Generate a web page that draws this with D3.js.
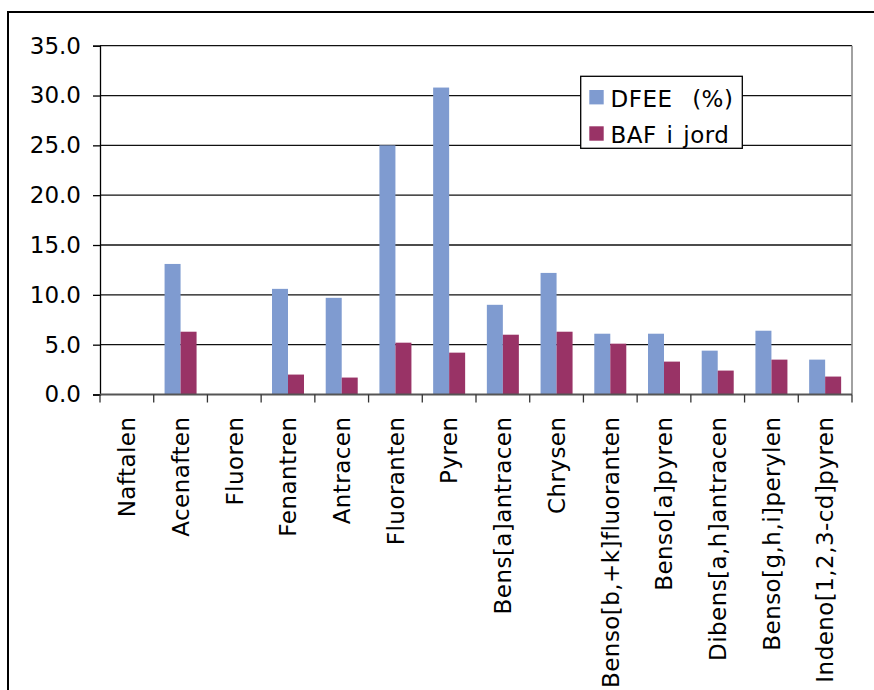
<!DOCTYPE html>
<html>
<head>
<meta charset="utf-8">
<script src="https://cdn.jsdelivr.net/npm/d3@7"></script>
<style>
  html, body { margin: 0; padding: 0; background: #fff; }
  svg { display: block; }
  text { font-family: "DejaVu Sans", Verdana, sans-serif; fill: #000; }
</style>
</head>
<body>
<svg id="chart" width="874" height="690"></svg>
<script>
// PAH compounds along the x axis
const categories = [
  "Naftalen", "Acenaften", "Fluoren", "Fenantren", "Antracen", "Fluoranten",
  "Pyren", "Bens[a]antracen", "Chrysen", "Benso[b,+k]fluoranten",
  "Benso[a]pyren", "Dibens[a,h]antracen", "Benso[g,h,i]perylen",
  "Indeno[1,2,3-cd]pyren"
];
// DFEE (%) per compound
const dfee = [0, 13.1, 0, 10.6, 9.7, 25.0, 30.8, 9.0, 12.2, 6.1, 6.1, 4.4, 6.4, 3.5];
// BAF in soil per compound
const baf = [0, 6.3, 0, 2.0, 1.7, 5.2, 4.2, 6.0, 6.3, 5.1, 3.3, 2.4, 3.5, 1.8];

const seriesNames = ["DFEE  (%)", "BAF i jord"];
const seriesColors = ["#7f9bd0", "#993366"];
const yTicks = [0, 5, 10, 15, 20, 25, 30, 35];

const svg = d3.select("#chart");
const fontSize = 23;

// outer frame of the chart object
svg.append("rect")
  .attr("x", 8).attr("y", 12)
  .attr("width", 900).attr("height", 900)
  .attr("fill", "none").attr("stroke", "#000").attr("stroke-width", 2);

const plot = { left: 100, right: 852, top: 45.7, bottom: 394.5 };

const x = d3.scaleBand()
  .domain(categories)
  .range([plot.left, plot.right])
  .paddingInner(0).paddingOuter(0);

const y = d3.scaleLinear().domain([0, 35]).range([plot.bottom, plot.top]);

const barW = 16;

// horizontal gridlines
svg.append("g")
  .selectAll("line")
  .data(yTicks.filter(d => d > 0))
  .join("line")
  .attr("x1", plot.left).attr("x2", plot.right)
  .attr("y1", d => y(d)).attr("y2", d => y(d))
  .attr("stroke", "#111").attr("stroke-width", 1.3);

// right border of the plot area
svg.append("line")
  .attr("x1", plot.right).attr("x2", plot.right)
  .attr("y1", plot.top).attr("y2", plot.bottom)
  .attr("stroke", "#8a8a8a").attr("stroke-width", 1.6);

// bars
const series = [dfee, baf];
series.forEach((vals, si) => {
  svg.append("g")
    .selectAll("rect")
    .data(vals.map((v, i) => ({ cat: categories[i], v })))
    .join("rect")
    .attr("x", d => x(d.cat) + x.bandwidth() / 2 - barW + si * barW)
    .attr("width", barW)
    .attr("y", d => y(d.v))
    .attr("height", d => y(0) - y(d.v))
    .attr("fill", seriesColors[si]);
});

// y axis
const yAxis = d3.axisLeft(y)
  .tickValues(yTicks)
  .tickFormat(d3.format(".1f"))
  .tickSize(7)
  .tickPadding(12);
const gy = svg.append("g")
  .attr("transform", `translate(${plot.left},0)`)
  .call(yAxis);
gy.select(".domain").attr("stroke", "#000").attr("stroke-width", 1.3);
gy.selectAll(".tick line").attr("stroke", "#000").attr("stroke-width", 1.3);
gy.selectAll(".tick text")
  .style("font-size", fontSize + "px")
  .style("font-family", '"DejaVu Sans", Verdana, sans-serif')
  .attr("fill", "#000");

// x axis with ticks at category boundaries
const xAxisG = svg.append("g").attr("transform", `translate(0,${plot.bottom})`);
xAxisG.append("line")
  .attr("x1", plot.left).attr("x2", plot.right)
  .attr("stroke", "#555").attr("stroke-width", 2);
const bounds = categories.map(c => x(c)).concat([plot.right]);
xAxisG.selectAll(".xt")
  .data(bounds)
  .join("line")
  .attr("class", "xt")
  .attr("x1", d => d).attr("x2", d => d)
  .attr("y1", 0).attr("y2", 8)
  .attr("stroke", "#333").attr("stroke-width", 1.3);

// rotated category labels
xAxisG.selectAll(".xl")
  .data(categories)
  .join("text")
  .attr("class", "xl")
  .attr("transform", d => `translate(${x(d) + x.bandwidth() / 2},22) rotate(-90)`)
  .attr("text-anchor", "end")
  .attr("dy", "0.36em")
  .style("font-size", fontSize + "px")
  .style("letter-spacing", "0.45px")
  .text(d => d);

// legend
const lg = svg.append("g");
lg.append("rect")
  .attr("x", 580.7).attr("y", 76.3)
  .attr("width", 161.6).attr("height", 72)
  .attr("fill", "#fff").attr("stroke", "#000").attr("stroke-width", 1.3);
seriesNames.forEach((name, i) => {
  const yy = 90 + i * 36.3;
  lg.append("rect")
    .attr("x", 589.3).attr("y", yy)
    .attr("width", 14.4).attr("height", 14.4)
    .attr("fill", seriesColors[i]);
  lg.append("text")
    .attr("x", 610.5).attr("y", yy + 16.6)
    .style("font-size", fontSize + "px")
    .style("white-space", "pre")
    .style("letter-spacing", "0.5px")
    .style("word-spacing", "2px")
    .text(name);
});
</script>
</body>
</html>
